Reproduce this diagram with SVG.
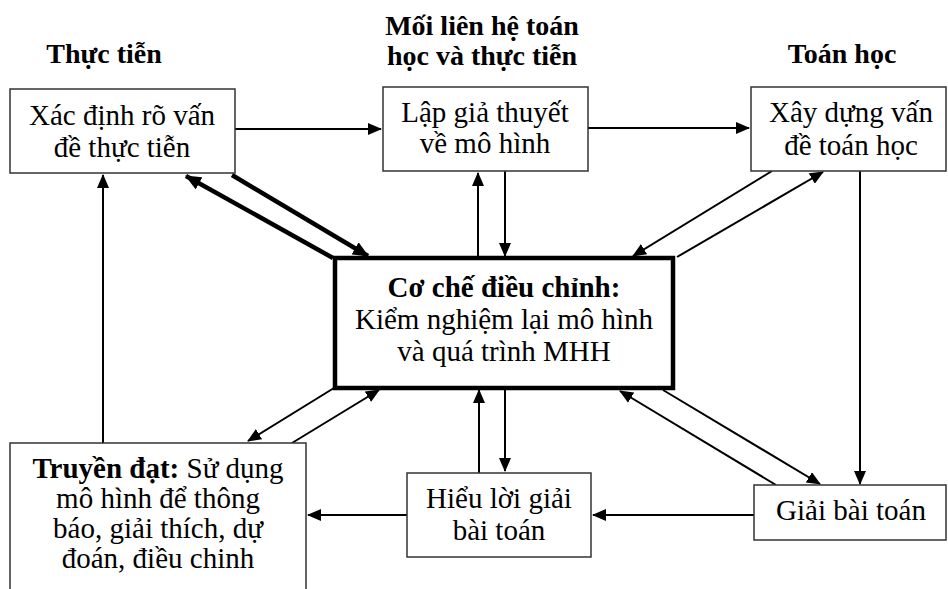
<svg xmlns="http://www.w3.org/2000/svg" width="948" height="589" viewBox="0 0 948 589">
<style>
.box{fill:#fff;stroke:#333;stroke-width:1.5}
.core{fill:#fff;stroke:#000;stroke-width:4.5}
text{font-family:'Liberation Serif','Times New Roman','DejaVu Serif',serif;fill:#000;text-anchor:middle}
.t{font-size:29px}
.h{font-size:28px;font-weight:bold}
.b{font-weight:bold}
.c{fill:none;stroke:#000;stroke-width:2}
.k{fill:none;stroke:#000;stroke-width:4.5}
</style>
<defs>
<marker id="a" viewBox="0 0 14 12" refX="13" refY="6" markerWidth="14" markerHeight="12" markerUnits="userSpaceOnUse" orient="auto">
<path d="M0,0 L14,6 L0,12 z" fill="#000"/>
</marker>
<marker id="ak" viewBox="0 0 16 14" refX="15" refY="7" markerWidth="16" markerHeight="14" markerUnits="userSpaceOnUse" orient="auto">
<path d="M0,0 L16,7 L0,14 z" fill="#000"/>
</marker>
</defs>
<rect width="948" height="589" fill="#fff"/>
<g id="titles" font-family="Liberation Serif, serif">
<text class="h" x="104" y="63">Thực tiễn</text>
<text class="h" x="482" y="35">Mối liên hệ toán</text>
<text class="h" x="482" y="65">học và thực tiễn</text>
<text class="h" x="842" y="63">Toán học</text>
</g>
<g id="connectors">
<path class="c" d="M235,129 H381" marker-end="url(#a)"/>
<path class="c" d="M588,128 H749" marker-end="url(#a)"/>
<path class="c" d="M103,443 V175" marker-end="url(#a)"/>
<path class="k" d="M333,258 L186,176" marker-end="url(#ak)"/>
<path class="k" d="M232,175 L368,256" marker-end="url(#ak)"/>
<path class="c" d="M478,258 V173" marker-end="url(#a)"/>
<path class="c" d="M505,171 V256" marker-end="url(#a)"/>
<path class="c" d="M772,171 L633,256" marker-end="url(#a)"/>
<path class="c" d="M677,257 L823,172" marker-end="url(#a)"/>
<path class="c" d="M860,171 V484" marker-end="url(#a)"/>
<path class="c" d="M663,390 L820,484" marker-end="url(#a)"/>
<path class="c" d="M776,485 L620,391" marker-end="url(#a)"/>
<path class="c" d="M754,515 H593" marker-end="url(#a)"/>
<path class="c" d="M407,515 H308" marker-end="url(#a)"/>
<path class="c" d="M479,473 V390" marker-end="url(#a)"/>
<path class="c" d="M505,390 V471" marker-end="url(#a)"/>
<path class="c" d="M334,388 L248,441" marker-end="url(#a)"/>
<path class="c" d="M292,443 L379,390" marker-end="url(#a)"/>
</g>
<g id="n1">
<rect class="box" x="10" y="89" width="225" height="84"/>
<text class="t" x="122" y="125">Xác định rõ vấn</text>
<text class="t" x="122" y="157">đề thực tiễn</text>
</g>
<g id="n2">
<rect class="box" x="383" y="87" width="205" height="84"/>
<text class="t" x="485" y="122">Lập giả thuyết</text>
<text class="t" x="485" y="153">về mô hình</text>
</g>
<g id="n3">
<rect class="box" x="751" y="87" width="195" height="84"/>
<text class="t" x="851" y="122">Xây dựng vấn</text>
<text class="t" x="851" y="155">đề toán học</text>
</g>
<g id="n4">
<rect class="core" x="335" y="258" width="338" height="130"/>
<text class="t b" x="504" y="297">Cơ chế điều chỉnh:</text>
<text class="t" x="504" y="329">Kiểm nghiệm lại mô hình</text>
<text class="t" x="504" y="361">và quá trình MHH</text>
</g>
<g id="n5">
<rect class="box" x="10" y="443" width="296" height="160"/>
<text class="t" x="158" y="478"><tspan class="b">Truyền đạt:</tspan> Sử dụng</text>
<text class="t" x="158" y="508">mô hình để thông</text>
<text class="t" x="158" y="538">báo, giải thích, dự</text>
<text class="t" x="158" y="568">đoán, điều chinh</text>
</g>
<g id="n6">
<rect class="box" x="407" y="473" width="184" height="84"/>
<text class="t" x="499" y="508">Hiểu lời giải</text>
<text class="t" x="499" y="540">bài toán</text>
</g>
<g id="n7">
<rect class="box" x="754" y="485" width="192" height="55"/>
<text class="t" x="851" y="520">Giải bài toán</text>
</g>
</svg>
